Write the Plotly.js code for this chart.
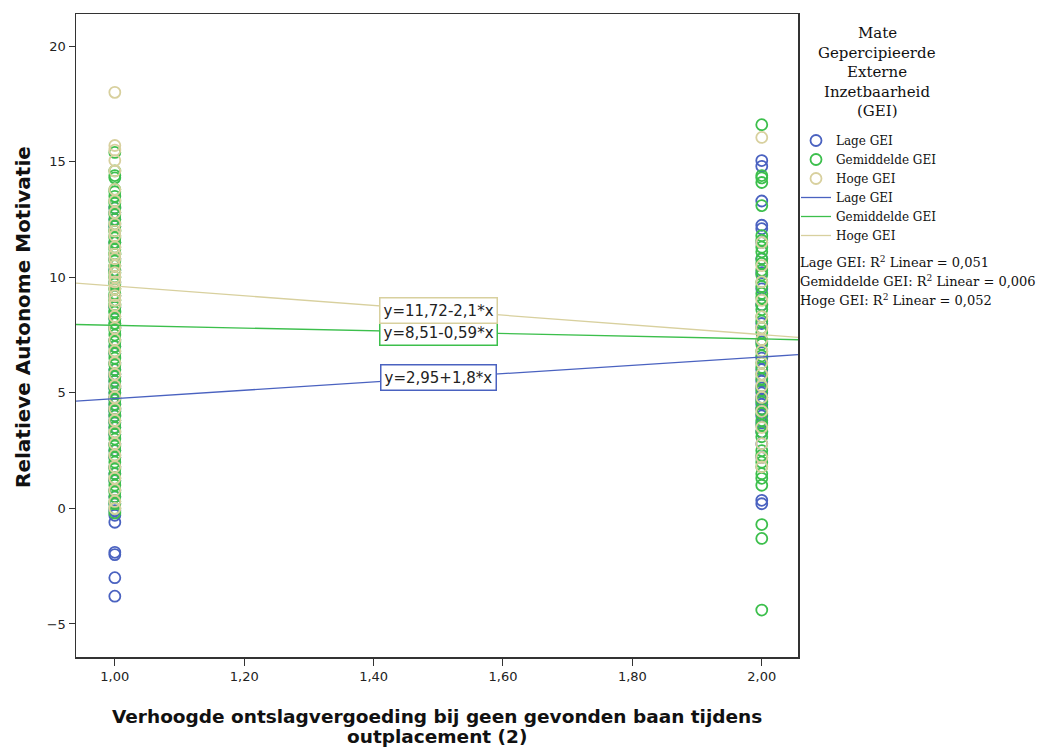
<!DOCTYPE html>
<html>
<head>
<meta charset="utf-8">
<script src="https://cdn.plot.ly/plotly-3.0.1.min.js"></script>
<style>html,body{margin:0;padding:0;background:#fff;}#chart{width:1053px;height:747px;}</style>
</head>
<body>
<div id="chart"></div>
<script>
// ---- data ----
const groupNames = ["Lage GEI", "Gemiddelde GEI", "Hoge GEI"];
const xCategories = [1, 2];
const legendTitleLines = ["Mate", "Gepercipieerde", "Externe", "Inzetbaarheid", "(GEI)"];
const xTitleLines = ["Verhoogde ontslagvergoeding bij geen gevonden baan tijdens", "outplacement (2)"];
const yTitle = "Relatieve Autonome Motivatie";

// Relatieve Autonome Motivatie at x = 1,00
const lageAt1 = [-3.8, -3.0, -2.0, -1.9, -0.6, -0.3, -0.1, 0.2, 0.5, 0.8, 1.2, 1.5, 1.8, 2.2, 2.5, 2.8, 3.2, 3.5, 3.7, 3.8, 4.0, 4.2, 4.3, 4.5, 4.7, 4.8, 5.0, 5.2, 5.3, 5.5, 5.7, 5.8, 6.0, 6.3, 6.7, 7.0, 7.3, 7.8, 8.2, 8.7, 9.2, 9.8, 10.3, 10.8, 11.5, 12.2, 12.5, 12.8, 13.0];
const gemiddeldeAt1 = [15.4, 14.6, 14.4, 14.3, 13.8, 13.7, 13.5, 13.3, 13.2, 13.0, 12.8, 12.7, 12.5, 12.3, 12.2, 12.0, 11.8, 11.7, 11.5, 11.3, 11.2, 11.0, 10.8, 10.7, 10.5, 10.3, 10.2, 10.0, 9.8, 9.7, 9.5, 9.3, 9.2, 9.0, 8.8, 8.7, 8.5, 8.3, 8.2, 8.0, 7.8, 7.7, 7.5, 7.3, 7.2, 7.0, 6.8, 6.7, 6.5, 6.3, 6.2, 6.0, 5.8, 5.7, 5.5, 5.3, 5.2, 5.0, 4.8, 4.7, 4.5, 4.3, 4.2, 4.0, 3.8, 3.7, 3.5, 3.3, 3.2, 3.0, 2.8, 2.7, 2.5, 2.3, 2.2, 2.0, 1.8, 1.7, 1.5, 1.3, 1.2, 1.0, 0.8, 0.7, 0.5, 0.3, 0.2, 0.0, -0.2, 8.0, 8.5, 9.0, 9.5, 10.0, 10.5, 11.0, 11.5, 12.0, 9.2, 10.2, 8.8];
const hogeAt1 = [18.0, 15.7, 15.5, 15.05, 14.6, 13.8, 13.3, 12.8, 12.3, 11.8, 11.3, 10.8, 10.5, 10.2, 9.8, 9.5, 9.2, 8.8, 8.3, 7.8, 7.3, 6.8, 6.3, 5.8, 5.3, 4.8, 4.3, 3.8, 3.3, 2.8, 2.3, 1.8, 1.3, 0.8, 0.3, 0.0, 10.0, 11.0, 12.0, 9.0];

// Relatieve Autonome Motivatie at x = 2,00
const lageAt2 = [15.05, 14.8, 13.3, 12.25, 12.1, 11.5, 10.8, 10.2, 9.5, 8.8, 8.0, 7.2, 6.5, 6.0, 5.5, 5.2, 5.0, 4.8, 4.7, 4.5, 4.3, 4.0, 3.7, 3.3, 2.8, 2.2, 0.35, 0.2];
const gemiddeldeAt2 = [16.6, 14.4, 14.3, 14.1, 13.1, 11.8, 11.6, 11.3, 11.1, 10.8, 10.6, 10.3, 10.1, 9.8, 9.6, 9.3, 9.1, 8.8, 8.6, 8.3, 8.1, 7.8, 7.6, 7.3, 7.1, 6.8, 6.6, 6.3, 6.1, 5.8, 5.6, 5.3, 5.1, 4.8, 4.6, 4.3, 4.1, 3.8, 3.6, 3.3, 3.1, 2.5, 2.3, 2.0, 1.8, 1.5, 1.3, 1.0, -0.7, -1.3, -4.4];
const hogeAt2 = [16.05, 11.5, 10.5, 9.8, 9.0, 8.3, 7.8, 7.3, 6.8, 6.3, 5.8, 5.3, 4.8, 4.2, 3.5, 2.8, 2.2, 1.8];

// fit lines y = a + b*x
const fitIntercepts = [2.95, 8.51, 11.72];
const fitSlopes = [1.8, -0.59, -2.1];
const fitLabels = ["y=2,95+1,8*x", "y=8,51-0,59*x", "y=11,72-2,1*x"];
const rSquared = ["0,051", "0,006", "0,052"];
const xTickVals = [1.0, 1.2, 1.4, 1.6, 1.8, 2.0];
const yTickVals = [-5, 0, 5, 10, 15, 20];

// ---- styling ----
const colors = ["#4a62c0", "#3cbf4c", "#d8d09e"];
const xRange = [0.94, 2.056];
const yRange = [-6.43, 21.39];
const serif = "DejaVu Serif, serif";
const sans = "DejaVu Sans, sans-serif";
const M = {l: 76, r: 255, t: 14, b: 90};
const W = 1053, H = 747;
const plotW = W - M.l - M.r, plotH = H - M.t - M.b;
const px = (x) => (x - M.l) / plotW;        // pixel -> paper x
const py = (y) => (H - M.b - y) / plotH;     // pixel -> paper y

const at1 = [lageAt1, gemiddeldeAt1, hogeAt1];
const at2 = [lageAt2, gemiddeldeAt2, hogeAt2];

const traces = [];
groupNames.forEach((g, i) => {
  const ys = at1[i].concat(at2[i]);
  const xs = at1[i].map(() => xCategories[0]).concat(at2[i].map(() => xCategories[1]));
  traces.push({
    type: "scatter", mode: "markers", name: g, x: xs, y: ys,
    marker: {symbol: "circle-open", size: 11, color: colors[i], line: {width: 1.8, color: colors[i]}},
    legendrank: 1 + i
  });
});
groupNames.forEach((g, i) => {
  const a = fitIntercepts[i], b = fitSlopes[i];
  traces.push({
    type: "scatter", mode: "lines", name: g,
    x: [xRange[0], xRange[1]], y: [a + b * xRange[0], a + b * xRange[1]],
    line: {color: colors[i], width: 1.3}, legendrank: 4 + i, hoverinfo: "skip"
  });
});

const annotations = [];
groupNames.forEach((g, i) => {
  const xm = 1.5;
  annotations.push({
    x: xm, y: fitIntercepts[i] + fitSlopes[i] * xm, xref: "x", yref: "y",
    text: fitLabels[i], showarrow: false,
    font: {family: sans, size: 15, color: "#222"},
    bgcolor: "#fff", bordercolor: colors[i], borderwidth: 1.5, borderpad: 3
  });
  annotations.push({
    x: px(798), y: py(262 + i * 19), xref: "paper", yref: "paper",
    xanchor: "left", yanchor: "middle", showarrow: false,
    text: g + ": R<sup>2</sup> Linear = " + rSquared[i],
    font: {family: serif, size: 13, color: "#111"}
  });
});
legendTitleLines.forEach((t, k) => {
  annotations.push({
    x: px(877), y: py(33 + k * 19.6), xref: "paper", yref: "paper",
    xanchor: "center", yanchor: "middle", showarrow: false, text: t,
    font: {family: serif, size: 15, color: "#111"}
  });
});
xTitleLines.forEach((t, k) => {
  annotations.push({
    x: px(437), y: py(716 + k * 20), xref: "paper", yref: "paper",
    xanchor: "center", yanchor: "middle", showarrow: false, text: "<b>" + t + "</b>",
    font: {family: sans, size: 18.5, color: "#111"}
  });
});
annotations.push({
  x: px(23), y: py(317), xref: "paper", yref: "paper", textangle: -90,
  xanchor: "center", yanchor: "middle", showarrow: false, text: "<b>" + yTitle + "</b>",
  font: {family: sans, size: 20, color: "#111"}
});

const layout = {
  width: W, height: H,
  margin: M,
  paper_bgcolor: "#fff", plot_bgcolor: "#fff",
  separators: ",.",
  showlegend: true,
  legend: {
    x: px(796), xanchor: "left", y: py(126), yanchor: "top",
    font: {family: serif, size: 12, color: "#111"},
    tracegroupgap: 0, itemwidth: 30, bgcolor: "rgba(0,0,0,0)"
  },
  xaxis: {
    range: xRange, tickvals: xTickVals, tickformat: ".2f",
    showgrid: false, zeroline: false, showline: true, mirror: true,
    linecolor: "#333", linewidth: 1.5, ticks: "outside", ticklen: 7, tickcolor: "#333",
    tickfont: {family: sans, size: 13, color: "#222"}
  },
  yaxis: {
    range: yRange, tickvals: yTickVals,
    showgrid: false, zeroline: false, showline: true, mirror: true,
    linecolor: "#333", linewidth: 1.5, ticks: "outside", ticklen: 6, tickcolor: "#333",
    tickfont: {family: sans, size: 13, color: "#222"}
  },
  annotations: annotations
};

Plotly.newPlot("chart", traces, layout, {displayModeBar: false, staticPlot: true});
</script>
</body>
</html>
